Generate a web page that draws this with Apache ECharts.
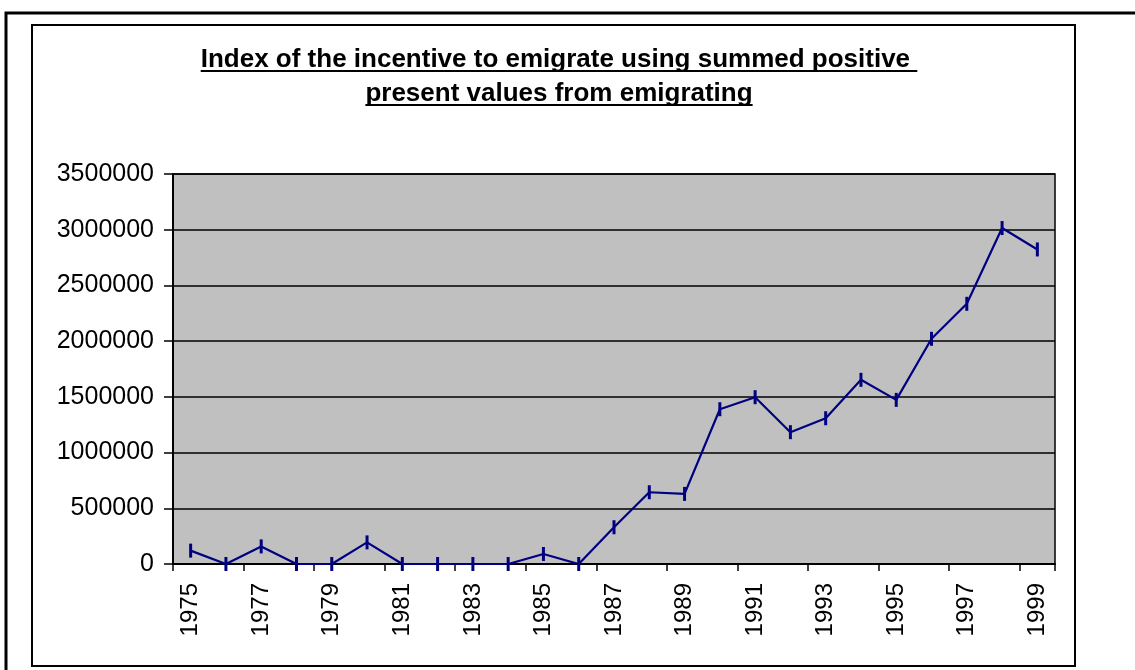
<!DOCTYPE html>
<html>
<head>
<meta charset="utf-8">
<script src="https://cdn.jsdelivr.net/npm/echarts@6/dist/echarts.min.js"></script>
<style>
    html, body { margin: 0; padding: 0; background: #fff; }
    #chart { width: 1135px; height: 670px; }
</style>
</head>
<body>
<div id="chart"></div>
<script>
// data
var years = ['1975', '1976', '1977', '1978', '1979', '1980', '1981', '1982', '1983', '1984',
    '1985', '1986', '1987', '1988', '1989', '1990', '1991', '1992', '1993', '1994',
    '1995', '1996', '1997', '1998', '1999'];
var incentive = [120000, 0, 158000, 0, 0, 194000, 0, 0, 0, 0,
    90000, 0, 330000, 644000, 629000, 1389000, 1497000, 1183000, 1308000, 1653000,
    1473000, 2021000, 2335000, 3015000, 2823000];
var titleLines = ['Index of the incentive to emigrate using summed positive ', 'present values from emigrating'];
var yMin = 0, yMax = 3500000, yStep = 500000;

var fontName = '"Liberation Sans", Arial, sans-serif';
var titleFont = 'bold 26px ' + fontName;

// underline widths, measured with the same font
function textWidth(str, font) {
    var ctx = document.createElement('canvas').getContext('2d');
    ctx.font = font;
    return ctx.measureText(str).width;
}

var titleX = 559;
var titleY = [60, 94];
var graphics = [
    // outer frame
    { type: 'rect', shape: { x: 6, y: 13, width: 1200, height: 700 }, style: { fill: 'none', stroke: '#000', lineWidth: 3 }, z: 0 },
    // inner frame
    { type: 'rect', shape: { x: 32, y: 25, width: 1043, height: 641 }, style: { fill: 'none', stroke: '#000', lineWidth: 2 }, z: 0 }
];
titleLines.forEach(function (line, i) {
    var w = textWidth(line, titleFont);
    graphics.push({
        type: 'text', x: titleX, y: titleY[i],
        style: { text: line, font: titleFont, fill: '#000', align: 'center', verticalAlign: 'middle' }
    });
    graphics.push({
        type: 'line',
        shape: { x1: titleX - w / 2, y1: titleY[i] + 11, x2: titleX + w / 2, y2: titleY[i] + 11 },
        style: { stroke: '#000', lineWidth: 2 }
    });
});

var chart = echarts.init(document.getElementById('chart'));
chart.setOption({
    animation: false,
    graphic: graphics,
    grid: {
        left: 173, right: 80, top: 174, bottom: 106,
        show: true,
        backgroundColor: '#c0c0c0',
        borderColor: '#000',
        borderWidth: 1.5
    },
    xAxis: {
        type: 'category',
        data: years,
        boundaryGap: true,
        axisLine: { lineStyle: { color: '#000', width: 2 } },
        axisTick: { show: true, length: 7, lineStyle: { color: '#000', width: 1.5 } },
        axisLabel: { interval: 1, rotate: 90, fontSize: 24, color: '#000', fontFamily: fontName, margin: 19 },
        splitLine: { show: false }
    },
    yAxis: {
        type: 'value',
        min: yMin, max: yMax, interval: yStep,
        axisLine: { show: true, lineStyle: { color: '#000', width: 2 } },
        axisTick: { show: true, length: 9, lineStyle: { color: '#000', width: 1.5 } },
        axisLabel: {
            fontSize: 25, color: '#000', fontFamily: fontName, margin: 19,
            formatter: function (v) { return String(v); }
        },
        splitLine: { lineStyle: { color: '#000', width: 1.5 } }
    },
    series: [{
        type: 'line',
        data: incentive,
        color: '#000080',
        lineStyle: { color: '#000080', width: 2.2 },
        symbol: 'rect',
        symbolSize: [3, 14],
        itemStyle: { color: '#000080' }
    }]
});
</script>
</body>
</html>
